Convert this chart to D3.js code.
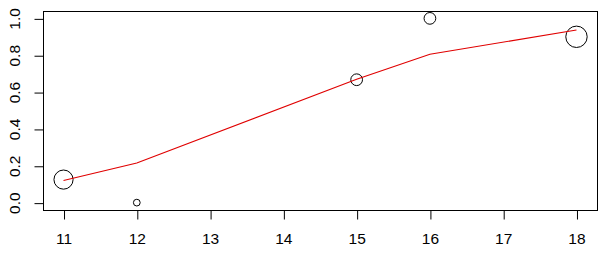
<!DOCTYPE html>
<html>
<head>
<meta charset="utf-8">
<script src="https://cdn.jsdelivr.net/npm/d3@7"></script>
<style>
  body { margin: 0; background: #fff; }
  svg text { font-family: "Liberation Sans", Arial, sans-serif; font-size: 15.5px; fill: #000; }
</style>
</head>
<body>
<svg id="chart"></svg>
<script>
// observed proportions and group sizes
const xVals = [11, 12, 15, 16, 18];
const yVals = [0.125, 0, 0.667, 1, 0.9];
const nVals = [8, 1, 3, 3, 10];
// fitted curve (red)
const fitVals = [0.12, 0.215, 0.67, 0.805, 0.937];
const xTicks = [11, 12, 13, 14, 15, 16, 17, 18];
const yTicks = [0, 0.2, 0.4, 0.6, 0.8, 1];

const width = 607, height = 258;
const margin = { top: 11, right: 10, bottom: 48, left: 43 };
const w = width - margin.left - margin.right;
const h = height - margin.top - margin.bottom;

const svg = d3.select("#chart").attr("width", width).attr("height", height);
const g = svg.append("g").attr("transform", `translate(${margin.left},${margin.top})`);

// R style 4% padding
const xScale = d3.scaleLinear().domain([11 - 0.28, 18 + 0.28]).range([0, w]);
const yScale = d3.scaleLinear().domain([-0.04, 1.04]).range([h, 0]);
const rScale = d3.scaleSqrt().domain([0, 10]).range([0, 10.7]);

g.append("rect")
  .attr("x", 0.5).attr("y", 0.5)
  .attr("width", w).attr("height", h)
  .attr("fill", "none").attr("stroke", "#000");

// x axis
const xAxis = g.append("g")
  .attr("transform", `translate(0,${h + 0.5})`)
  .call(d3.axisBottom(xScale).tickValues(xTicks).tickSize(9).tickPadding(13).tickFormat(d3.format("d")));
xAxis.attr("font-size", null).attr("font-family", null);
xAxis.select(".domain").remove();
xAxis.selectAll("line").attr("transform", "translate(0.5,0)");

// y axis, labels rotated like R
const yAxis = g.append("g")
  .attr("transform", "translate(0.5,0)")
  .call(d3.axisLeft(yScale).tickValues(yTicks).tickSize(9).tickFormat(d3.format(".1f")));
yAxis.attr("font-size", null).attr("font-family", null);
yAxis.select(".domain").remove();
yAxis.selectAll("line").attr("transform", "translate(0,0.5)");
yAxis.selectAll("text")
  .attr("x", null)
  .attr("text-anchor", "middle")
  .attr("transform", "translate(-28.5,0) rotate(-90)")
  .attr("dy", "0.35em");

// points
g.selectAll("circle.pt")
  .data(xVals.map((x, i) => ({ x, y: yVals[i], n: nVals[i] })))
  .join("circle")
  .attr("class", "pt")
  .attr("cx", d => xScale(d.x))
  .attr("cy", d => yScale(d.y))
  .attr("r", d => rScale(d.n))
  .attr("fill", "none")
  .attr("stroke", "#000")
  .attr("stroke-width", 1);

// fitted line
const line = d3.line().x(d => xScale(d[0])).y(d => yScale(d[1]));
g.append("path")
  .datum(xVals.map((x, i) => [x, fitVals[i]]))
  .attr("d", line)
  .attr("fill", "none")
  .attr("stroke", "#e00000")
  .attr("stroke-width", 1.1);
</script>
</body>
</html>
